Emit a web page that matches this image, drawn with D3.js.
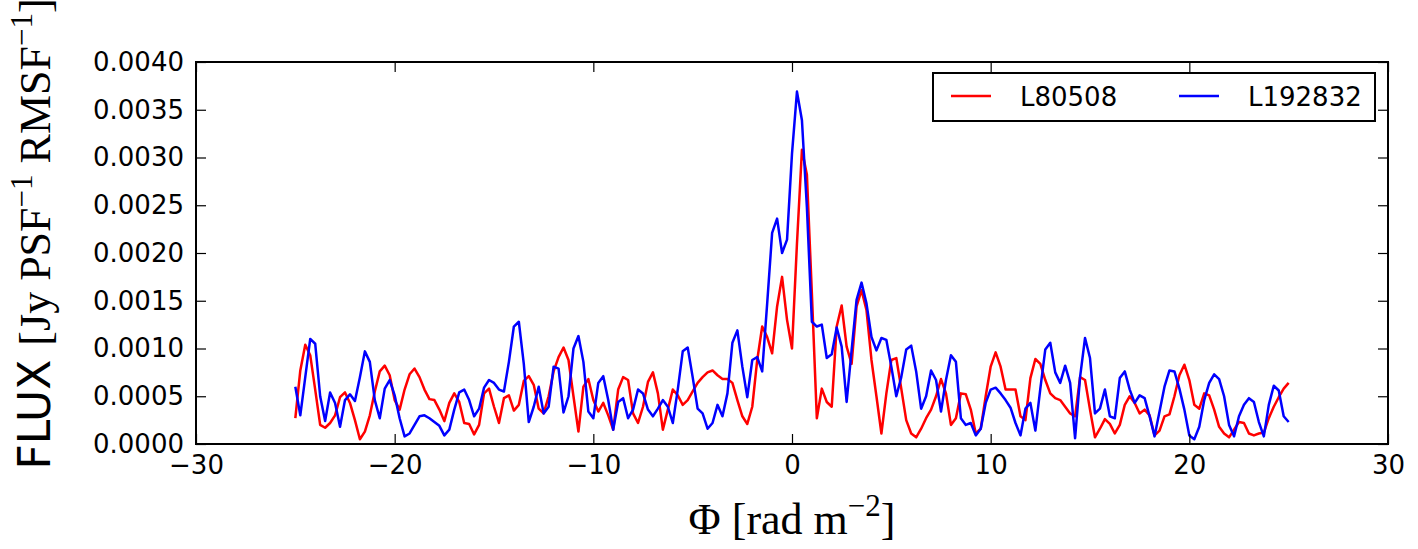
<!DOCTYPE html>
<html>
<head>
<meta charset="utf-8">
<script src="https://cdn.jsdelivr.net/npm/d3@7"></script>
<style>
  body { margin: 0; background: #fff; }
  svg { display: block; }
  .tick text { font-family: "DejaVu Sans", sans-serif; font-size: 26px; fill: #000; }
</style>
</head>
<body>
<div id="chart"></div>
<script>
// Faraday depth grid (rad m^-2)
const phiStart = -25, phiStep = 0.25, phiCount = 201;
const phi = d3.range(phiCount).map(i => phiStart + i * phiStep);

const fluxL80508 = [
  0.00027, 0.00077, 0.00104, 0.00093, 0.00057, 0.0002, 0.00017, 0.00022, 0.0003, 0.00049,
  0.00054, 0.00043, 0.00025, 0.00005, 0.00013, 0.0003, 0.00055, 0.00076, 0.00082, 0.00072,
  0.00046, 0.00036, 0.00057, 0.00073, 0.00079, 0.0007, 0.00057, 0.00047, 0.00046, 0.00036,
  0.00024, 0.00043, 0.00053, 0.00044, 0.00022, 0.00021, 0.0001, 0.0002, 0.00053, 0.00058,
  0.00039, 0.00022, 0.00048, 0.00051, 0.00035, 0.00041, 0.00066, 0.00071, 0.00062, 0.00037,
  0.00032, 0.0005, 0.00076, 0.00091, 0.00101, 0.00088, 0.0005, 0.00013, 0.0006, 0.00068,
  0.00046, 0.00034, 0.00043, 0.0003, 0.00015, 0.00057, 0.0007, 0.00067, 0.00032, 0.00022,
  0.00039, 0.00065, 0.00075, 0.00053, 0.00015, 0.00036, 0.00057, 0.00051, 0.00041, 0.00046,
  0.00055, 0.00064, 0.0007, 0.00075, 0.00077, 0.00072, 0.00068, 0.00068, 0.00064, 0.00046,
  0.00029, 0.00021, 0.00039, 0.00088, 0.00123, 0.00112, 0.00095, 0.00144, 0.00175, 0.0013,
  0.001, 0.0021, 0.00308, 0.00282, 0.00158, 0.00027, 0.00058, 0.00044, 0.00039, 0.00123,
  0.00145, 0.00102, 0.00084, 0.00144, 0.00161, 0.0014, 0.00088, 0.0005, 0.00011, 0.00053,
  0.00088, 0.0009, 0.00058, 0.00025, 0.00011, 0.00007, 0.00016, 0.00027, 0.00036, 0.0005,
  0.00068, 0.00053, 0.0002, 0.00027, 0.00053, 0.00052, 0.00036, 0.00011, 0.00016, 0.0005,
  0.00081, 0.00096, 0.00081, 0.00057, 0.00057, 0.00057, 0.00029, 0.00025, 0.00069, 0.00089,
  0.00084, 0.00067, 0.00053, 0.00048, 0.00046, 0.00039, 0.00032, 0.00029, 0.0007, 0.00067,
  0.00036, 0.00007, 0.00016, 0.00026, 0.00021, 0.00011, 0.0002, 0.00041, 0.0005, 0.00043,
  0.00032, 0.00036, 0.0003, 0.00009, 0.00014, 0.00029, 0.00031, 0.0005, 0.00072, 0.00083,
  0.00067, 0.00041, 0.00037, 0.00053, 0.00051, 0.00036, 0.00018, 0.00011, 0.00007, 0.00015,
  0.00023, 0.00022, 0.00011, 0.00009, 0.00011, 0.00012, 0.00027, 0.00039, 0.00049, 0.00058,
  0.00064
];

const fluxL192832 = [
  0.0006, 0.0003, 0.0007, 0.0011, 0.00105, 0.0005, 0.00024, 0.00054, 0.00043, 0.00018,
  0.00046, 0.00052, 0.00045, 0.0007, 0.00097, 0.00086, 0.00046, 0.00027, 0.00058, 0.00067,
  0.00051, 0.00027, 0.00008, 0.00011, 0.0002, 0.00029, 0.0003, 0.00027, 0.00023, 0.00019,
  0.00009, 0.00015, 0.00036, 0.00054, 0.00057, 0.00046, 0.00029, 0.00037, 0.00059, 0.00067,
  0.00064, 0.00057, 0.00055, 0.00086, 0.00123, 0.00128, 0.00084, 0.00023, 0.00039, 0.0006,
  0.00032, 0.00039, 0.00081, 0.00079, 0.00033, 0.0005, 0.001, 0.00113, 0.00086, 0.00034,
  0.00027, 0.00064, 0.00071, 0.00046, 0.00015, 0.00044, 0.00048, 0.00027, 0.00036, 0.00057,
  0.00053, 0.00036, 0.00029, 0.00037, 0.00046, 0.00039, 0.00022, 0.00057, 0.00097, 0.00101,
  0.0007, 0.00037, 0.00032, 0.00016, 0.00022, 0.00041, 0.00029, 0.00053, 0.00106, 0.00119,
  0.00081, 0.00049, 0.00088, 0.00091, 0.00076, 0.00147, 0.00221, 0.00236, 0.002, 0.00214,
  0.00304, 0.00369, 0.00339, 0.00248, 0.00128, 0.00123, 0.00125, 0.0009, 0.00094, 0.00122,
  0.00102, 0.00044, 0.00098, 0.00151, 0.00169, 0.00147, 0.00112, 0.00098, 0.00111, 0.00109,
  0.00081, 0.0005, 0.0007, 0.00099, 0.00103, 0.00076, 0.00037, 0.0005, 0.00077, 0.00067,
  0.00034, 0.00067, 0.00093, 0.00086, 0.00027, 0.0002, 0.00022, 0.00009, 0.00016, 0.00043,
  0.00057, 0.00059, 0.00053, 0.00046, 0.00038, 0.00022, 0.00009, 0.00037, 0.00043, 0.00014,
  0.00058, 0.00099, 0.00106, 0.00075, 0.00064, 0.00082, 0.00064, 0.00006, 0.0007, 0.00111,
  0.0009, 0.00032, 0.00037, 0.00057, 0.00029, 0.00027, 0.00069, 0.00076, 0.00057, 0.00043,
  0.00051, 0.00048, 0.00029, 0.00008, 0.00034, 0.0006, 0.00077, 0.00076, 0.00058, 0.00036,
  0.00009, 0.00005, 0.00018, 0.00046, 0.00064, 0.00073, 0.00068, 0.0005, 0.0002, 0.00008,
  0.00029, 0.00041, 0.00048, 0.00044, 0.00023, 0.00008, 0.00041, 0.00061, 0.00056, 0.00029,
  0.00023
];

const seriesNames = ['L80508', 'L192832'];
const seriesColors = ['#ff0000', '#0000ff'];
const xTicks = [-30, -20, -10, 0, 10, 20, 30];
const yTicks = [0, 0.0005, 0.001, 0.0015, 0.002, 0.0025, 0.003, 0.0035, 0.004];

const width = 1418, height = 549;
const margin = { left: 196, right: 30, top: 62, bottom: 105 };

const svg = d3.select('#chart')
    .append('svg')
    .attr('width', width)
    .attr('height', height);

const x = d3.scaleLinear().domain([-30, 30]).range([margin.left, width - margin.right]);
const y = d3.scaleLinear().domain([0, 0.004]).range([height - margin.bottom, margin.top]);

const plotW = width - margin.left - margin.right;
const plotH = height - margin.top - margin.bottom;

// lines
const line = d3.line()
    .x((d, i) => x(phi[i]))
    .y(d => y(d));

[fluxL80508, fluxL192832].forEach(function(s, k) {
    svg.append('path')
        .datum(s)
        .attr('fill', 'none')
        .attr('stroke', seriesColors[k])
        .attr('stroke-width', 2.5)
        .attr('stroke-linejoin', 'round')
        .attr('d', line);
});

// axes, ticks pointing inward on all four sides
svg.append('g')
    .attr('transform', 'translate(0,' + (height - margin.bottom) + ')')
    .call(d3.axisBottom(x).tickValues(xTicks).tickSizeInner(-10).tickSizeOuter(0).tickPadding(12))
    .call(g => g.select('.domain').remove());

svg.append('g')
    .attr('transform', 'translate(0,' + margin.top + ')')
    .call(d3.axisTop(x).tickValues(xTicks).tickSizeInner(-10).tickSizeOuter(0).tickFormat(''))
    .call(g => g.select('.domain').remove());

svg.append('g')
    .attr('transform', 'translate(' + margin.left + ',0)')
    .call(d3.axisLeft(y).tickValues(yTicks).tickSizeInner(-10).tickSizeOuter(0).tickPadding(12).tickFormat(d3.format('.4f')))
    .call(g => g.select('.domain').remove());

svg.append('g')
    .attr('transform', 'translate(' + (width - margin.right) + ',0)')
    .call(d3.axisRight(y).tickValues(yTicks).tickSizeInner(-10).tickSizeOuter(0).tickFormat(''))
    .call(g => g.select('.domain').remove());

svg.selectAll('.tick line').attr('stroke', '#000').attr('stroke-width', 1.2);

svg.append('rect')
    .attr('x', margin.left)
    .attr('y', margin.top)
    .attr('width', plotW)
    .attr('height', plotH)
    .attr('fill', 'none')
    .attr('stroke', '#000')
    .attr('stroke-width', 2);

// x label
const serif = '"Liberation Serif", "DejaVu Serif", serif';
const xl = svg.append('text')
    .attr('x', x(0))
    .attr('y', 534)
    .attr('text-anchor', 'middle')
    .style('font-family', serif)
    .style('font-size', '44px');
xl.append('tspan').text('Φ [rad m');
xl.append('tspan').attr('dy', -18).style('font-size', '31px').text('−2');
xl.append('tspan').attr('dy', 18).text(']');

// y label (runs past the top edge, as in the original figure)
const yl = svg.append('text')
    .attr('transform', 'translate(50,' + 234 + ') rotate(-90)')
    .attr('text-anchor', 'middle')
    .style('font-size', '44px');
yl.append('tspan').style('font-family', '"DejaVu Sans", sans-serif').text('FLUX ');
yl.append('tspan').style('font-family', serif).text('[Jy PSF');
yl.append('tspan').attr('dy', -18).style('font-family', serif).style('font-size', '31px').text('−1');
yl.append('tspan').attr('dy', 18).style('font-family', serif).text(' RMSF');
yl.append('tspan').attr('dy', -18).style('font-family', serif).style('font-size', '31px').text('−1');
yl.append('tspan').attr('dy', 18).style('font-family', serif).text(']');

// legend
const legend = svg.append('g');
legend.append('rect')
    .attr('x', 933)
    .attr('y', 73)
    .attr('width', 442)
    .attr('height', 48)
    .attr('fill', '#fff')
    .attr('stroke', '#000')
    .attr('stroke-width', 2);

const legendX = [951, 1179];
seriesNames.forEach(function(name, k) {
    legend.append('line')
        .attr('x1', legendX[k])
        .attr('x2', legendX[k] + 40)
        .attr('y1', 96)
        .attr('y2', 96)
        .attr('stroke', seriesColors[k])
        .attr('stroke-width', 2.5);
    legend.append('text')
        .attr('x', legendX[k] + 69)
        .attr('y', 106)
        .style('font-family', '"DejaVu Sans", sans-serif')
        .style('font-size', '26px')
        .text(name);
});
</script>
</body>
</html>
